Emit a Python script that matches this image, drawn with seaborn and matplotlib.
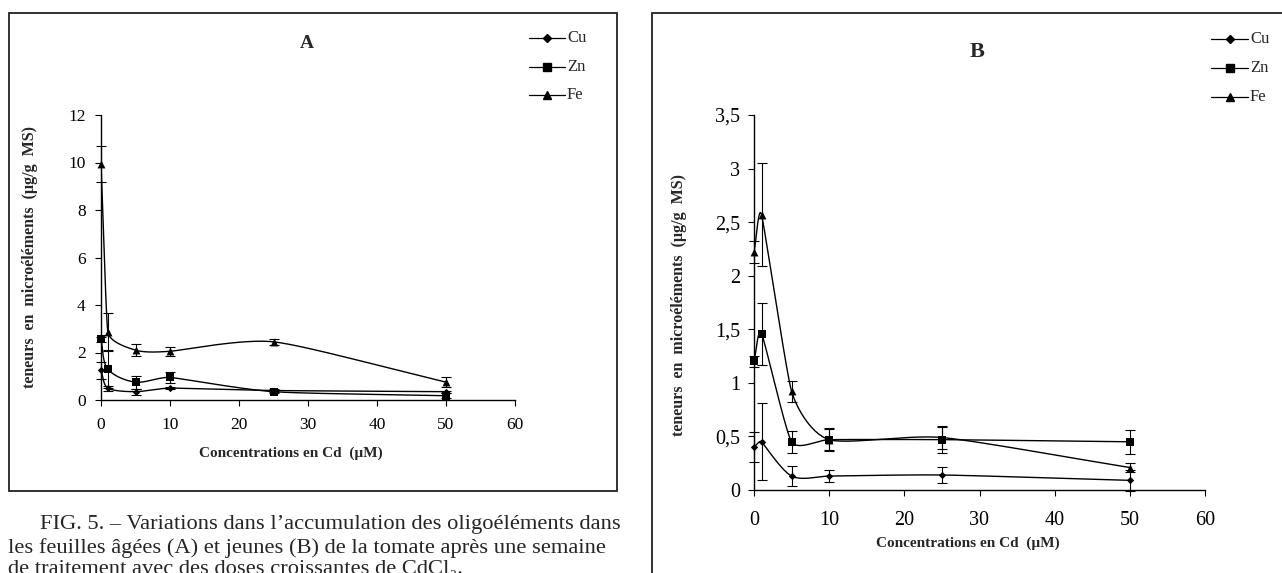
import numpy as np
import seaborn as sns
import matplotlib.pyplot as plt
from matplotlib.lines import Line2D
from matplotlib.patches import Rectangle

# concentrations en Cd (uM)
conc = [0, 1, 5, 10, 25, 50]

# A : feuilles agees
a_cu = [1.25, 0.5, 0.35, 0.5, 0.4, 0.35]
a_cu_err = [0.35, 0.1, 0.12, 0.05, 0.05, 0.05]
a_zn = [2.55, 1.3, 0.75, 0.95, 0.35, 0.18]
a_zn_err = [0.1, 0.8, 0.27, 0.22, 0.05, 0.1]
a_fe = [9.95, 2.85, 2.1, 2.05, 2.45, 0.75]
a_fe_err = [0.75, 0.8, 0.25, 0.2, 0.12, 0.2]

# B : feuilles jeunes
b_cu = [0.4, 0.45, 0.13, 0.13, 0.14, 0.09]
b_cu_err = [0.14, 0.36, 0.095, 0.055, 0.075, 0.1]
b_zn = [1.2, 1.46, 0.45, 0.47, 0.47, 0.45]
b_zn_err = [0.05, 0.29, 0.1, 0.105, 0.12, 0.11]
b_fe = [2.22, 2.57, 0.92, 0.47, 0.49, 0.21]
b_fe_err = [0.1, 0.48, 0.1, 0.1, 0.11, 0.045]

labels = ['Cu', 'Zn', 'Fe']
markers = ['D', 's', '^']
msizes = [14, 26, 32]

a_ticks = [0, 2, 4, 6, 8, 10, 12]
b_ticks = [0, 0.5, 1, 1.5, 2, 2.5, 3, 3.5]
b_ticklabels = ['0', '0,5', '1', '1,5', '2', '2,5', '3', '3,5']
x_ticks = [0, 10, 20, 30, 40, 50, 60]

W, H = 1282, 573


def smooth(x, y, sx, sy, n=30, k=0.3):
    # excel-like smoothed line: bezier through the points, worked out in screen units
    P = np.column_stack([np.asarray(x, float) * sx, np.asarray(y, float) * sy])
    ext = np.vstack([P[0], P, P[-1]])
    seg = np.linalg.norm(np.diff(P, axis=0), axis=1)
    seg_ext = np.concatenate([seg[:1], seg, seg[-1:]])
    t = np.linspace(0, 1, n)[1:, None]
    out = [P[:1]]
    for i in range(len(P) - 1):
        p0, p1, p2, p3 = ext[i], ext[i + 1], ext[i + 2], ext[i + 3]
        d = seg_ext[i + 1]
        t1 = (p2 - p0) / np.linalg.norm(p2 - p0)
        t2 = (p3 - p1) / np.linalg.norm(p3 - p1)
        c1 = p1 + t1 * min(d, seg_ext[i]) * k
        c2 = p2 - t2 * min(d, seg_ext[i + 2]) * k
        out.append((1 - t) ** 3 * p1 + 3 * (1 - t) ** 2 * t * c1 + 3 * (1 - t) * t ** 2 * c2 + t ** 3 * p2)
    pts = np.vstack(out)
    return pts[:, 0] / sx, pts[:, 1] / sy


sns.set_theme(style='ticks')
plt.rcParams['font.family'] = ['Liberation Serif', 'DejaVu Serif']
plt.rcParams['axes.linewidth'] = 1.0

fig = plt.figure(figsize=(W / 100, H / 100), dpi=100)
fig.patch.set_facecolor('white')


def panel(box, series, ymax, ticks, ticklabels, fs):
    l, r, b, t = box
    ax = fig.add_axes([l / W, 1 - b / H, (r - l) / W, (b - t) / H])
    sx = (r - l) / 60.0
    sy = (b - t) / float(ymax)
    for (vals, err), m, s in zip(series, markers, msizes):
        xs, ys = smooth(conc, vals, sx, sy)
        sns.lineplot(x=xs, y=ys, sort=False, estimator=None, color='black', lw=1.0, ax=ax)
        ax.errorbar(conc, vals, yerr=err, fmt='none', ecolor='black', elinewidth=0.8,
                    capsize=3.5, capthick=0.8, clip_on=False)
        sns.scatterplot(x=conc, y=vals, marker=m, s=s, color='black', linewidth=0,
                        ax=ax, zorder=4, clip_on=False)
    ax.set_xlim(0, 60)
    ax.set_ylim(0, ymax)
    ax.set_xticks(x_ticks)
    ax.set_yticks(ticks)
    ax.set_yticklabels(ticklabels)
    ax.set_facecolor('white')
    sns.despine(ax=ax)
    for sp in ['left', 'bottom']:
        ax.spines[sp].set_color('black')
    ax.tick_params(axis='both', direction='out', length=4, width=0.8, colors='black', labelsize=fs)
    return ax


axA = panel((101, 515, 400, 115), [(a_cu, a_cu_err), (a_zn, a_zn_err), (a_fe, a_fe_err)],
            12, a_ticks, [str(v) for v in a_ticks], 12.5)
axA.tick_params(axis='x', pad=8)
axA.tick_params(axis='y', pad=7)

axB = panel((754, 1205, 490, 115), [(b_cu, b_cu_err), (b_zn, b_zn_err), (b_fe, b_fe_err)],
            3.5, b_ticks, b_ticklabels, 14.5)
axB.tick_params(axis='x', pad=11)
axB.tick_params(axis='y', pad=6)

# frames
fig.add_artist(Rectangle((9 / W, 1 - 491 / H), 608 / W, 478 / H, fill=False, lw=1.3,
                         ec='#222222', transform=fig.transFigure))
fig.add_artist(Rectangle((652 / W, -0.1), 1.0, 1.1 - 13 / H, fill=False, lw=1.3,
                         ec='#222222', transform=fig.transFigure))

# titles, axis labels
fig.text(307 / W, 1 - 44 / H, 'A', fontsize=14, fontweight='bold', ha='center', va='center')
fig.text(977 / W, 1 - 52 / H, 'B', fontsize=16, fontweight='bold', ha='center', va='center')

ylab = 'teneurs  en  microéléments  (µg/g  MS)'
fig.text(30 / W, 1 - 257 / H, ylab, rotation=90, fontsize=11.5, fontweight='bold', ha='center', va='center')
fig.text(679 / W, 1 - 305 / H, ylab, rotation=90, fontsize=11.5, fontweight='bold', ha='center', va='center')

xlab = 'Concentrations en Cd  (µM)'
fig.text(291 / W, 1 - 453 / H, xlab, fontsize=11, fontweight='bold', ha='center', va='center')
fig.text(968 / W, 1 - 543 / H, xlab, fontsize=11, fontweight='bold', ha='center', va='center')


def legend(x0, x1, ys, xt):
    for lab, m, s, y in zip(labels, markers, msizes, ys):
        yy = 1 - y / H
        fig.add_artist(Line2D([x0 / W, x1 / W], [yy, yy], color='black', lw=0.9,
                              transform=fig.transFigure))
        fig.add_artist(Line2D([(x0 + x1) / 2 / W], [yy], color='black', lw=0, marker=m,
                              markersize=np.sqrt(s), transform=fig.transFigure))
        fig.text(xt / W, yy, lab, fontsize=12, ha='left', va='center')


legend(529, 565, [38, 67, 95], 567)
legend(1211, 1248, [39, 68, 97], 1250)

# caption
cap = [
    (40, 525, 'FIG. 5. – Variations dans l’accumulation des oligoéléments dans'),
    (8, 548, 'les feuilles âgées (A) et jeunes (B) de la tomate après une semaine'),
    (8, 570, 'de traitement avec des doses croissantes de CdCl₂.'),
]
for x, y, s in cap:
    fig.text(x / W, 1 - y / H, s, fontsize=16.2, ha='left', va='center')

fig.savefig('out.png', dpi=100, facecolor='white')
